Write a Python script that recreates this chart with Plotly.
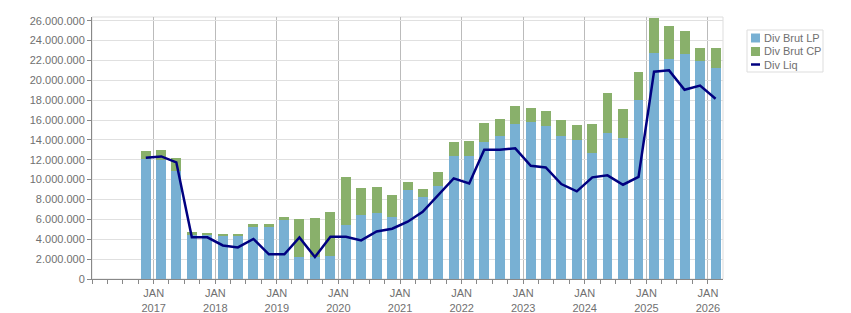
import plotly.graph_objects as go

dates = [
    "2016-11-15",
    "2017-02-15", "2017-05-15", "2017-08-15", "2017-11-15",
    "2018-02-15", "2018-05-15", "2018-08-15", "2018-11-15",
    "2019-02-15", "2019-05-15", "2019-08-15", "2019-11-15",
    "2020-02-15", "2020-05-15", "2020-08-15", "2020-11-15",
    "2021-02-15", "2021-05-15", "2021-08-15", "2021-11-15",
    "2022-02-15", "2022-05-15", "2022-08-15", "2022-11-15",
    "2023-02-15", "2023-05-15", "2023-08-15", "2023-11-15",
    "2024-02-15", "2024-05-15", "2024-08-15", "2024-11-15",
    "2025-02-15", "2025-05-15", "2025-08-15", "2025-11-15",
    "2026-02-15",
]

div_brut_lp = [
    12100000, 11940000, 10900000, 4400000, 4430000, 4360000, 4360000, 5260000,
    5260000, 5970000, 2240000, 2240000, 2340000, 5470000, 6470000, 6600000,
    6270000, 8990000, 8280000, 9390000, 12410000, 12410000, 13820000, 14420000,
    15630000, 15830000, 15430000, 14420000, 14020000, 12710000, 14730000, 14220000,
    18040000, 22780000, 22180000, 22680000, 21980000, 21270000,
]

div_brut_cp = [
    810000, 1060000, 1300000, 360000, 230000, 200000, 200000, 310000,
    310000, 300000, 3830000, 3930000, 4430000, 4830000, 2720000, 2690000,
    2210000, 800000, 810000, 1410000, 1390000, 1510000, 1910000, 1710000,
    1810000, 1410000, 1510000, 1610000, 1510000, 2920000, 4010000, 2920000,
    2830000, 3520000, 3320000, 2310000, 1300000, 2010000,
]

div_liq = [
    12200000, 12340000, 11740000, 4190000, 4190000, 3380000, 3180000, 4030000,
    2480000, 2480000, 4190000, 2210000, 4260000, 4260000, 3890000, 4790000,
    5060000, 5770000, 6770000, 8480000, 10130000, 9620000, 13000000, 13000000,
    13150000, 11400000, 11230000, 9560000, 8820000, 10230000, 10430000, 9490000,
    10270000, 20870000, 21000000, 19050000, 19460000, 18150000,
]

series_names = ["Div Brut LP", "Div Brut CP", "Div Liq"]

year_ticks = ["2017-01-01", "2018-01-01", "2019-01-01", "2020-01-01", "2021-01-01",
              "2022-01-01", "2023-01-01", "2024-01-01", "2025-01-01", "2026-01-01"]
year_labels = ["JAN<br>2017", "JAN<br>2018", "JAN<br>2019", "JAN<br>2020", "JAN<br>2021",
               "JAN<br>2022", "JAN<br>2023", "JAN<br>2024", "JAN<br>2025", "JAN<br>2026"]
y_ticks = [0, 2000000, 4000000, 6000000, 8000000, 10000000, 12000000, 14000000,
           16000000, 18000000, 20000000, 22000000, 24000000, 26000000]

BAR_W = 59 * 86400000
FONT = "Liberation Sans, Arial, sans-serif"
TXT = "#707070"
C_LP, C_CP, C_LIQ = "#78b0d3", "#89b06b", "#000080"

W, H = 851, 313
ML, MR, MT, MB = 92, 128, 17, 34
PW, PH = W - ML - MR, H - MT - MB


def px(x):
    return (x - ML) / PW


def py(y):
    return (H - MB - y) / PH


fig = go.Figure()
fig.add_trace(go.Bar(x=dates, y=div_brut_lp, name=series_names[0], width=BAR_W,
                     marker=dict(color=C_LP, line=dict(width=0))))
fig.add_trace(go.Bar(x=dates, y=div_brut_cp, name=series_names[1], width=BAR_W,
                     marker=dict(color=C_CP, line=dict(width=0))))
fig.add_trace(go.Scatter(x=dates, y=div_liq, name=series_names[2], mode="lines",
                         line=dict(color=C_LIQ, width=2.5)))

# legend drawn as box + swatches + labels
shapes = [dict(type="rect", xref="paper", yref="paper", x0=0, x1=1, y0=0, y1=1,
               line=dict(color="#dddddd", width=1), layer="below"),
          dict(type="rect", xref="paper", yref="paper", x0=px(747), x1=px(823),
               y0=py(72), y1=py(30), line=dict(color="#dddddd", width=1),
               fillcolor="white")]
annotations = []
rows = [38, 51.5, 64.5]
for i, (name, yc) in enumerate(zip(series_names, rows)):
    if i < 2:
        shapes.append(dict(type="rect", xref="paper", yref="paper",
                           x0=px(751), x1=px(760), y0=py(yc + 4.5), y1=py(yc - 4.5),
                           line=dict(width=0), fillcolor=[C_LP, C_CP][i]))
    else:
        shapes.append(dict(type="line", xref="paper", yref="paper",
                           x0=px(751), x1=px(760), y0=py(yc), y1=py(yc),
                           line=dict(color=C_LIQ, width=2.5)))
    annotations.append(dict(xref="paper", yref="paper", x=px(762), y=py(yc),
                            xanchor="left", yanchor="middle", showarrow=False,
                            text=name, font=dict(family=FONT, size=11, color=TXT)))

fig.update_layout(
    width=W, height=H,
    barmode="stack",
    separators=",.",
    paper_bgcolor="white", plot_bgcolor="white",
    margin=dict(l=ML, r=MR, t=MT, b=MB, autoexpand=False),
    font=dict(family=FONT, size=11, color=TXT),
    showlegend=False,
    xaxis=dict(
        type="date", range=["2016-01-01", "2026-03-31"], automargin=False,
        tickmode="array", tickvals=year_ticks, ticktext=year_labels,
        showgrid=True, gridcolor="#bbbbbb", gridwidth=1,
        showline=True, linecolor="#888888", linewidth=1,
        ticks="outside", ticklen=4, tickcolor="#888888",
        minor=dict(dtick="M3", tick0="2016-01-01", ticks="outside", ticklen=4,
                   tickcolor="#888888", showgrid=False),
        tickfont=dict(family=FONT, size=11, color=TXT),
        zeroline=False,
    ),
    yaxis=dict(
        range=[0, 26370000], automargin=False,
        tickmode="array", tickvals=y_ticks, tickformat=",d",
        showgrid=True, gridcolor="#e0e0e0", gridwidth=1,
        showline=True, linecolor="#888888", linewidth=1,
        ticks="outside", ticklen=4, tickcolor="#888888",
        tickfont=dict(family=FONT, size=11, color=TXT),
        zeroline=False,
    ),
    shapes=shapes,
    annotations=annotations,
)

fig.write_html("out.html")
